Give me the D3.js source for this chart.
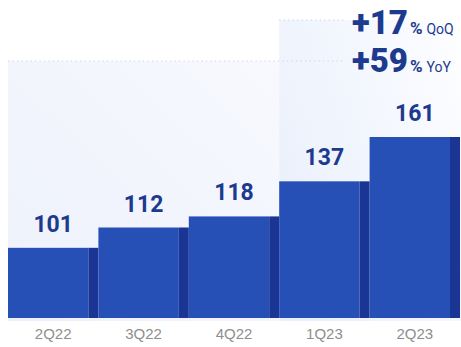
<!doctype html>
<html>
  <head>
    <script src="https://cdnjs.cloudflare.com/ajax/libs/d3/7.8.5/d3.min.js"></script>
    <style>
      body { margin: 0; background: #fff; font-family: Roboto, "Noto Sans", sans-serif; }
      .val { font-weight: 700; font-size: 23px; fill: #1c3a8e; text-anchor: middle; }
      .axis text { font-size: 15px; fill: #8e8e8e; }
      .growth { fill: #1c3a8e; }
    </style>
  </head>
  <body>
    <svg id="chart" width="461" height="347"></svg>
    <script>
      var quarters = ["2Q22", "3Q22", "4Q22", "1Q23", "2Q23"];
      var values = [101, 112, 118, 137, 161];
      var growthValues = ["+17", "+59"];
      var growthLabels = ["QoQ", "YoY"];

      var svg = d3.select("#chart");
      var W = 461, base = 318;

      var x = d3.scaleBand().domain(quarters).range([8, 460]).padding(0);
      var y = d3.scaleLinear().domain([63, 161]).range([base, 137]);

      var defs = svg.append("defs");
      var g1 = defs.append("linearGradient").attr("id", "bg1")
          .attr("x1", 0).attr("y1", 1).attr("x2", 1).attr("y2", 0);
      g1.append("stop").attr("offset", 0).attr("stop-color", "#edf1fb");
      g1.append("stop").attr("offset", 1).attr("stop-color", "#f7f9fe");
      var g2 = defs.append("linearGradient").attr("id", "bg2")
          .attr("x1", 0).attr("y1", 0.6).attr("x2", 1).attr("y2", 0);
      g2.append("stop").attr("offset", 0).attr("stop-color", "#eaf0fb");
      g2.append("stop").attr("offset", 0.75).attr("stop-color", "#f8faff");
      g2.append("stop").attr("offset", 1).attr("stop-color", "#ffffff");

      // comparison panels: YoY from 2Q22, QoQ from 1Q23
      var yoyTop = 61, qoqTop = 20;
      svg.append("rect")
          .attr("x", x("2Q22")).attr("y", yoyTop)
          .attr("width", x("1Q23") - x("2Q22")).attr("height", base + 3 - yoyTop)
          .attr("fill", "url(#bg1)");
      svg.append("rect")
          .attr("x", x("1Q23")).attr("y", qoqTop)
          .attr("width", W - x("1Q23")).attr("height", base + 3 - qoqTop)
          .attr("fill", "url(#bg2)");

      // dotted guide lines
      svg.append("line").attr("x1", x("2Q22")).attr("x2", 345)
          .attr("y1", yoyTop).attr("y2", yoyTop)
          .attr("stroke", "#c5d2ee").attr("stroke-width", 1.2).attr("stroke-dasharray", "1.2,3.3");
      svg.append("line").attr("x1", x("1Q23")).attr("x2", 345)
          .attr("y1", qoqTop).attr("y2", qoqTop)
          .attr("stroke", "#c5d2ee").attr("stroke-width", 1.2).attr("stroke-dasharray", "1.2,3.3");

      var side = 10;
      var bars = svg.selectAll("g.bar").data(values).enter().append("g").attr("class", "bar");
      bars.append("rect")
          .attr("x", (d, i) => x(quarters[i]))
          .attr("y", d => y(d))
          .attr("width", x.bandwidth() - side)
          .attr("height", d => base - y(d))
          .attr("fill", "#2650b6");
      bars.append("rect")
          .attr("x", (d, i) => x(quarters[i]) + x.bandwidth() - side)
          .attr("y", d => y(d))
          .attr("width", side)
          .attr("height", d => base - y(d))
          .attr("fill", "#1a3594");
      bars.append("text")
          .attr("class", "val")
          .attr("x", (d, i) => x(quarters[i]) + x.bandwidth() / 2)
          .attr("y", d => y(d) - 16)
          .text(d => d);

      var axis = svg.append("g").attr("class", "axis")
          .attr("transform", "translate(0," + base + ")")
          .call(d3.axisBottom(x).tickSize(0).tickPadding(10));
      axis.select(".domain").remove();

      // growth annotations
      var ann = svg.selectAll("text.growth").data(growthValues).enter().append("text")
          .attr("class", "growth")
          .attr("x", 352)
          .attr("y", (d, i) => i === 0 ? 34 : 72);
      ann.append("tspan").attr("font-size", "33px").attr("font-weight", 900).text(d => d);
      ann.append("tspan").attr("font-size", "17px").attr("font-weight", 700).attr("dx", 2).text("%");
      ann.append("tspan").attr("font-size", "14px").attr("font-weight", 400).attr("dx", 4)
          .text((d, i) => growthLabels[i]);
    </script>
  </body>
</html>
